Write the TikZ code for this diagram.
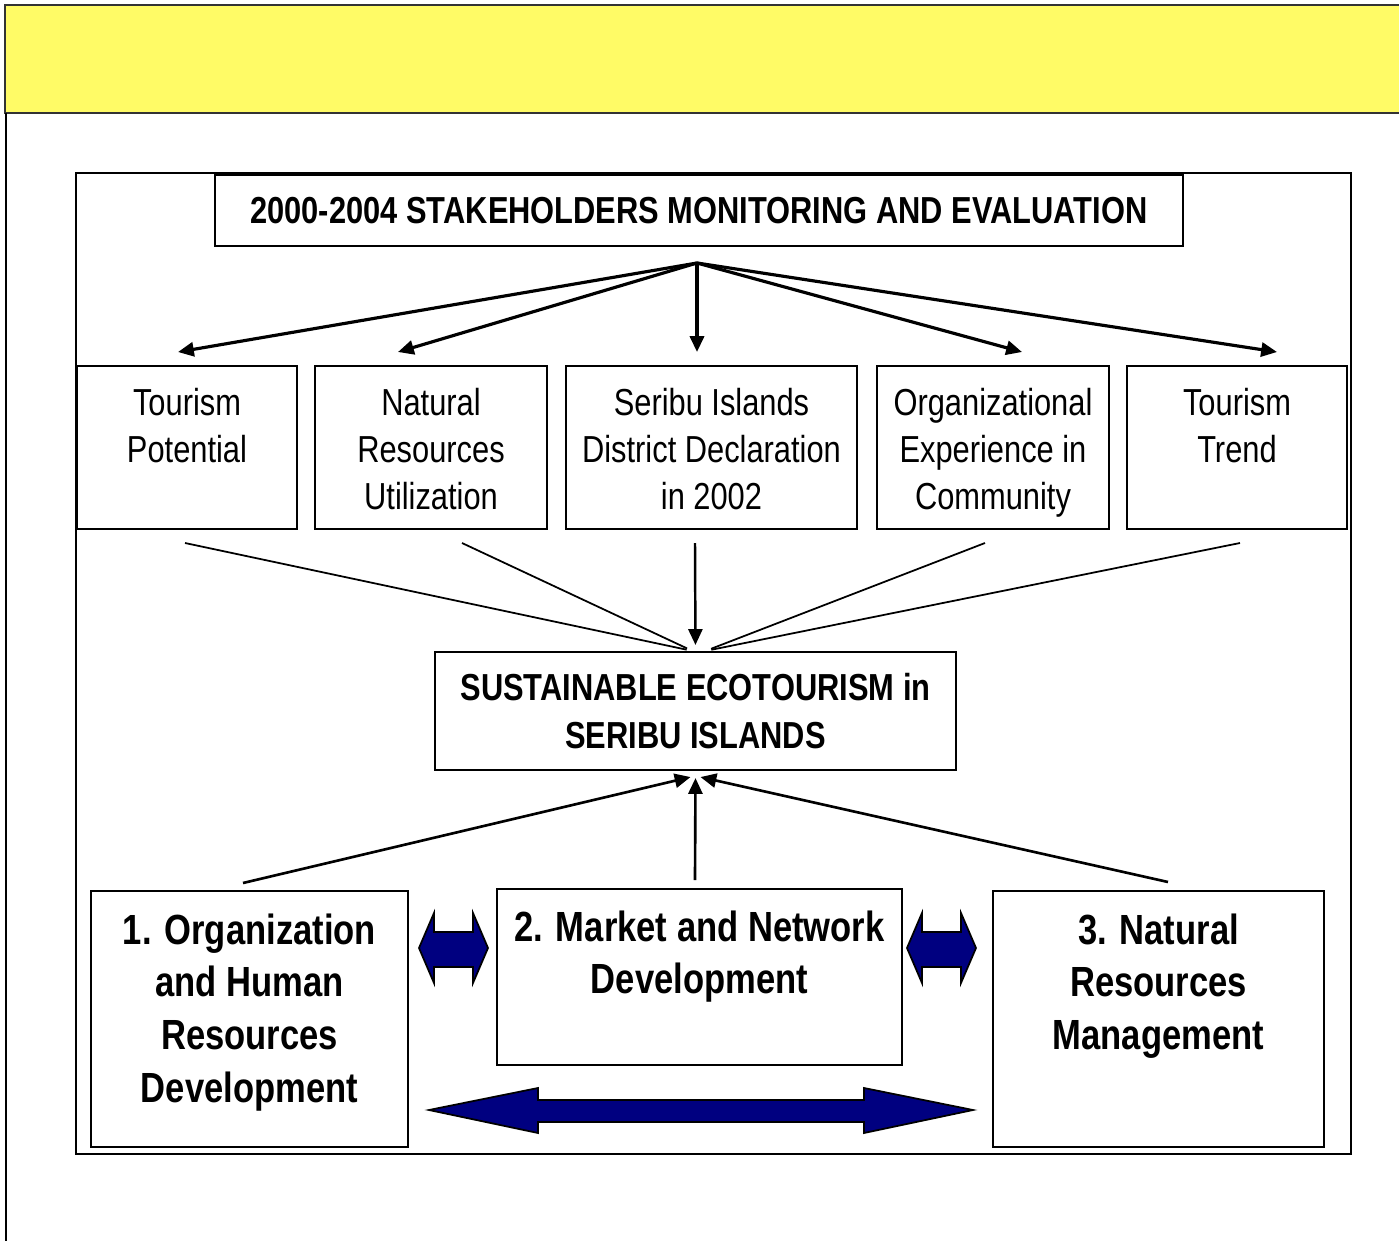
\documentclass[tikz,border=0pt]{standalone}
\usepackage{fontspec}
\setmainfont{Liberation Sans}[FakeStretch=0.82]
\usepackage{tikz}
\usetikzlibrary{arrows.meta,positioning}
\definecolor{bandjaune}{HTML}{FFFB66}
\definecolor{bleunuit}{HTML}{000080}

\begin{document}
\begin{tikzpicture}[every node/.style={font=\fontsize{10.7}{13.7}\selectfont},
  topbox/.style={draw, line width=0.6pt, inner sep=0pt, align=flush center, font=\fontsize{10.7}{13.4}\selectfont,
    text height=0.49cm, text depth=1.14cm},
  keybox/.style={draw, line width=0.6pt, inner sep=0pt, align=center, font=\fontsize{10.7}{13.7}\selectfont\bfseries},
  basebox/.style={draw, line width=0.7pt, inner sep=0pt, align=flush center, font=\fontsize{12}{15}\selectfont\bfseries},
  fan/.style={line width=0.9pt, -{Triangle[length=4.5pt,width=4pt]}},
  trait/.style={line width=0.5pt, shorten >=0.06cm},
  montee/.style={line width=0.75pt, -{Triangle[length=4.5pt,width=4pt]}},
  bluearrow/.style={fill=bleunuit, draw=black, line width=0.5pt}]
  \clip (0,0) rectangle (13.99,-12.41);
  % bandeau jaune
  \fill[bandjaune] (0.05,-0.05) rectangle (14.1,-1.13);
  \draw[black!80, line width=0.6pt] (14.1,-0.05) -- (0.05,-0.05) -- (0.05,-1.13) -- (14.1,-1.13);
  \draw[line width=0.8pt] (0.06,-1.13) -- (0.06,-12.5);
  % cadre
  \draw[line width=0.8pt] (0.76,-1.73) rectangle (13.51,-11.54);
  % titre
  \node[keybox, minimum width=9.68cm, minimum height=0.71cm] (titre) at (6.99,-2.105) {2000-2004 STAKEHOLDERS MONITORING AND EVALUATION};
  % facteurs
  \node[topbox, text width=2.20cm] (potentiel) at (1.87,-4.475) {Tourism\\Potential};
  \node[topbox, text width=2.32cm] (ressources) at (4.31,-4.475) {Natural\\Resources\\Utilization};
  \node[topbox, text width=2.91cm] (district) at (7.115,-4.475) {Seribu Islands\\District Declaration\\in 2002};
  \node[topbox, text width=2.32cm] (experience) at (9.93,-4.475) {Organizational\\Experience in\\Community};
  \node[topbox, text width=2.20cm] (tendance) at (12.37,-4.475) {Tourism\\Trend};
  % eventail
  \coordinate (fan) at (6.97,-2.63);
  \coordinate (a1) at (1.78,-3.52);
  \coordinate (a2) at (3.98,-3.52);
  \coordinate (a3) at (6.97,-3.52);
  \coordinate (a4) at (10.22,-3.52);
  \coordinate (a5) at (12.77,-3.52);
  \foreach \c in {a1,a2,a3,a4,a5}
    \draw[fan] (fan) -- (\c);
  % ecotourisme
  \node[keybox, minimum width=5.21cm, minimum height=1.18cm] (eco) at (6.955,-7.11) {SUSTAINABLE ECOTOURISM in\\SERIBU ISLANDS};
  % convergence
  \coordinate (c1) at (1.85,-5.43);
  \coordinate (c2) at (4.62,-5.43);
  \coordinate (c3) at (6.95,-5.43);
  \coordinate (c4) at (9.85,-5.43);
  \coordinate (c5) at (12.40,-5.43);
  \draw[trait] (c1) -- ([xshift=-0.03cm]eco.north);
  \draw[trait] (c2) -- ([xshift=-0.03cm]eco.north);
  \draw[trait] (c4) -- ([xshift=0.1cm]eco.north);
  \draw[trait] (c5) -- ([xshift=0.1cm]eco.north);
  \draw[trait, line width=0.7pt, -{Triangle[length=4.5pt,width=4pt]}] (c3) -- (eco.north);
  % programmes
  \node[basebox, text width=3.17cm, text height=0.53cm, text depth=2.03cm] (orga) at (2.495,-10.19) {1. Organization\\and Human\\Resources\\Development};
  \node[basebox, text width=4.05cm, text height=0.52cm, text depth=1.24cm] (marche) at (6.995,-9.77) {2. Market and Network\\Development};
  \node[basebox, text width=3.31cm, text height=0.53cm, text depth=2.03cm] (nature) at (11.585,-10.19) {3. Natural\\Resources\\Management};
  % montees
  \coordinate (u1) at (2.43,-8.83);
  \coordinate (u2) at (6.95,-8.80);
  \coordinate (u3) at (11.68,-8.82);
  \draw[montee] (u1) -- ([xshift=-0.05cm,yshift=-0.06cm]eco.south);
  \draw[montee] (u2) -- ([yshift=-0.07cm]eco.south);
  \draw[montee] (u3) -- ([xshift=0.05cm,yshift=-0.06cm]eco.south);
  % doubles fleches
  \foreach \x in {4.19,9.07}
    \filldraw[bluearrow] (\x,-9.48) -- ++(0.15,0.35) -- ++(0,-0.19) -- ++(0.39,0) -- ++(0,0.19)
      -- ++(0.15,-0.35) -- ++(-0.15,-0.35) -- ++(0,0.16) -- ++(-0.39,0) -- ++(0,-0.16) -- cycle;
  \filldraw[bluearrow] (4.29,-11.10) -- (5.38,-10.88) -- (5.38,-11.00) -- (8.64,-11.00) -- (8.64,-10.88)
    -- (9.73,-11.10) -- (8.64,-11.33) -- (8.64,-11.22) -- (5.38,-11.22) -- (5.38,-11.33) -- cycle;
\end{tikzpicture}
\end{document}
